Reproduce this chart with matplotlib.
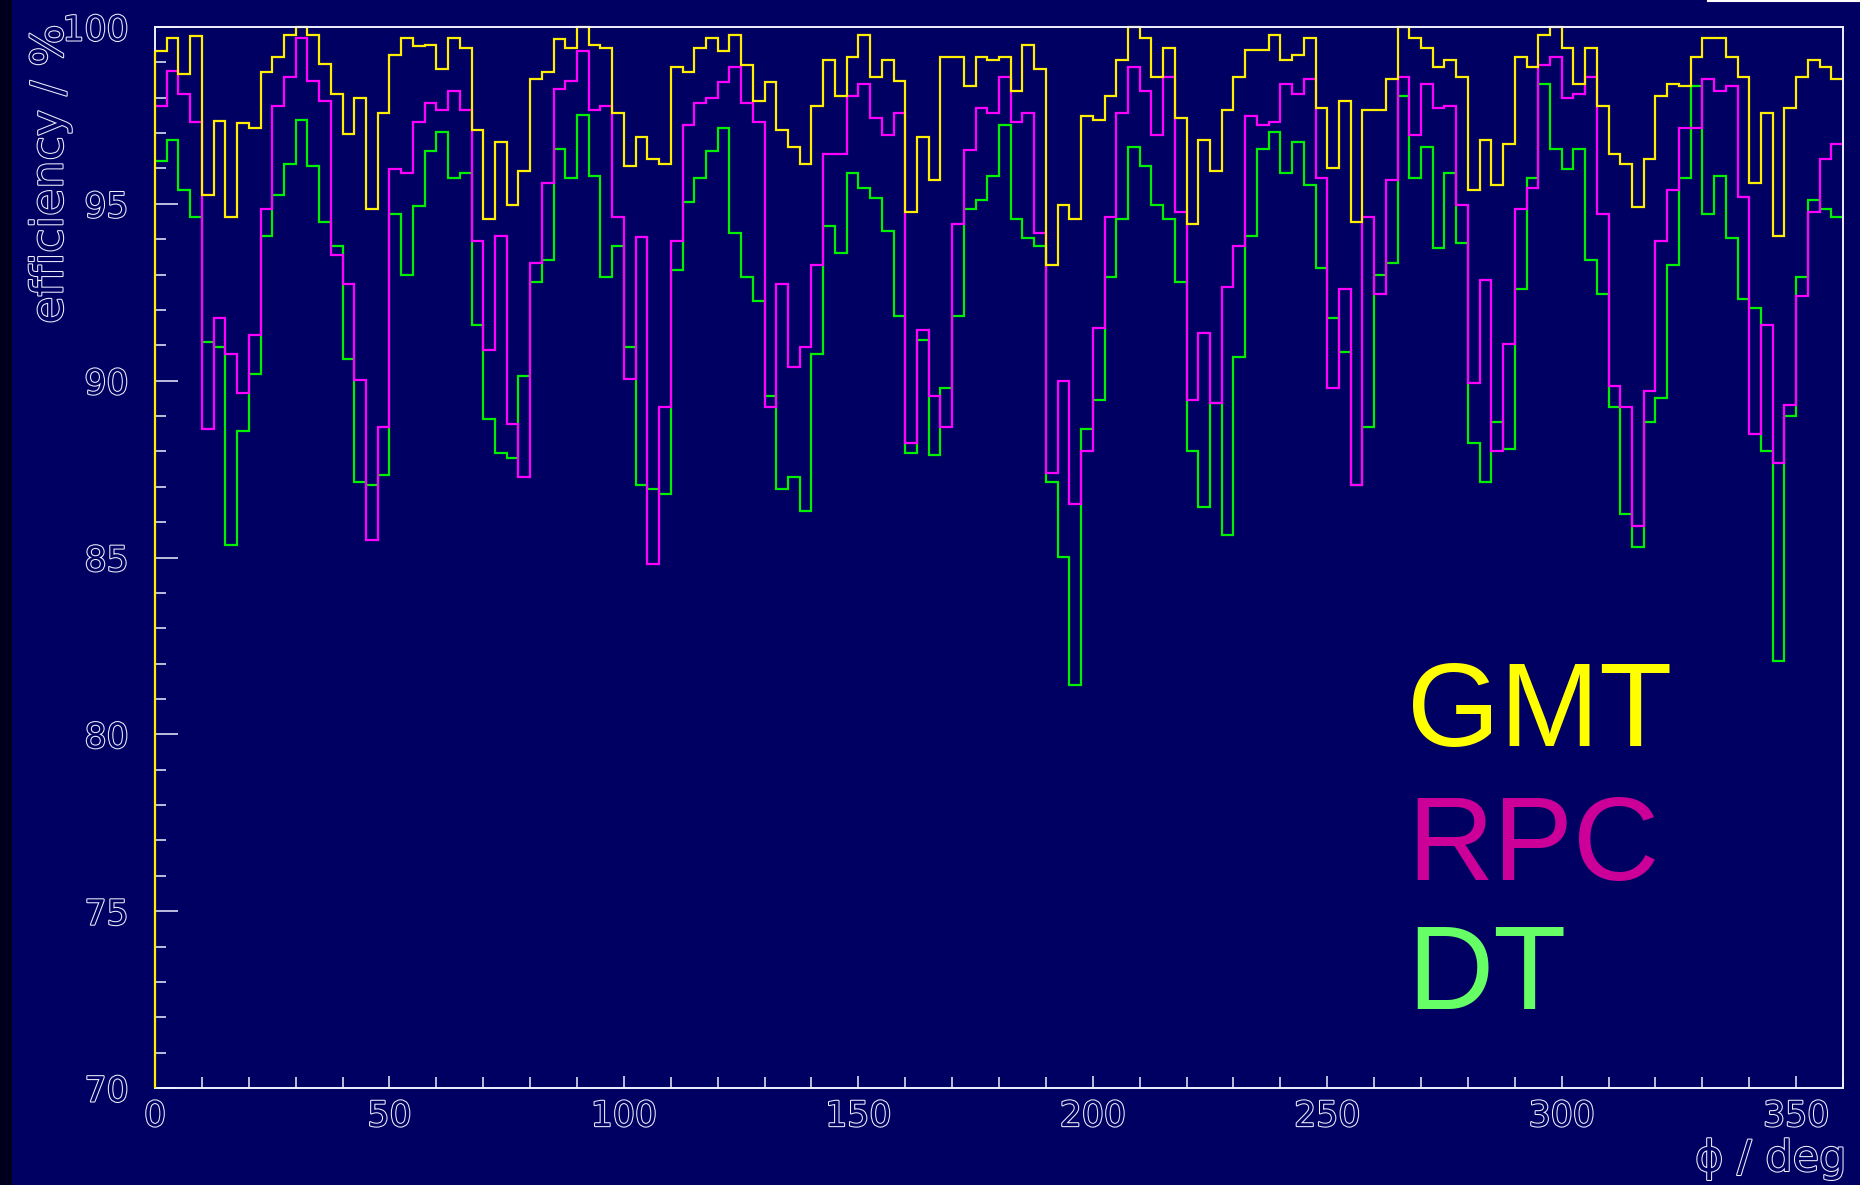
import matplotlib
matplotlib.use("Agg")
import matplotlib.pyplot as plt
import matplotlib.patheffects as pe
from matplotlib.lines import Line2D
from matplotlib.patches import Rectangle
import numpy as np

# ---------------- data (efficiency in %, 2.5 deg bins in phi) ----------------
phi_min = 0.0
phi_max = 360.0
n_bins = 144

gmt = [99.33, 99.68, 98.66, 99.74, 95.25, 97.35, 94.63, 97.29, 97.15, 98.74,
       99.15, 99.77, 100.0, 99.77, 98.94, 98.11, 96.98, 97.98, 94.86, 97.57,
       99.21, 99.68, 99.45, 99.48, 98.80, 99.68, 99.42, 97.09, 94.56, 96.74,
       94.97, 95.94, 98.52, 98.74, 99.67, 99.42, 100.0, 99.48, 99.42, 97.57,
       96.07, 96.88, 96.28, 96.13, 98.86, 98.74, 99.42, 99.68, 99.33, 99.76,
       98.92, 97.91, 98.45, 97.09, 96.62, 96.13, 97.76, 99.07, 98.05, 99.15,
       99.76, 98.60, 99.07, 98.46, 94.76, 96.88, 95.66, 99.15, 99.15, 98.33,
       99.15, 99.07, 99.15, 98.19, 99.48, 98.80, 93.27, 94.97, 94.57, 97.49,
       97.37, 98.05, 99.08, 100.0, 99.68, 98.59, 99.42, 97.44, 94.43, 96.81,
       95.93, 97.64, 98.59, 99.35, 99.35, 99.76, 99.08, 99.21, 99.68, 97.71,
       96.01, 97.91, 94.50, 97.64, 97.64, 98.52, 100.0, 99.68, 99.42, 98.86,
       99.07, 98.60, 95.39, 96.81, 95.52, 96.68, 99.15, 98.86, 99.76, 100.0,
       99.42, 98.39, 99.42, 97.78, 96.41, 96.13, 94.91, 96.28, 98.05, 98.39,
       98.33, 99.15, 99.68, 99.68, 99.15, 98.59, 95.60, 97.57, 94.09, 97.71,
       98.59, 99.07, 98.86, 98.52]

rpc = [97.78, 98.75, 98.11, 97.32, 88.64, 91.77, 90.75, 89.66, 91.29, 94.85,
       97.78, 98.59, 99.68, 98.46, 97.91, 93.56, 92.73, 90.01, 85.50, 88.70,
       95.99, 95.87, 97.30, 97.84, 97.65, 98.18, 97.65, 93.95, 90.88, 94.09,
       88.77, 87.27, 93.33, 95.60, 98.25, 98.46, 99.33, 97.65, 97.76, 94.64,
       90.06, 94.07, 84.81, 89.25, 93.95, 97.22, 97.84, 97.98, 98.45, 98.86,
       97.84, 97.30, 89.25, 92.72, 90.40, 90.95, 93.27, 96.41, 96.41, 98.05,
       98.39, 97.43, 96.95, 97.57, 88.23, 91.43, 89.58, 88.70, 94.43, 96.53,
       97.70, 97.57, 98.59, 97.30, 97.57, 94.17, 87.40, 90.00, 86.52, 88.01,
       91.50, 94.64, 97.57, 98.86, 98.19, 96.95, 98.59, 94.78, 89.45, 91.36,
       89.38, 92.66, 93.82, 97.49, 97.23, 97.30, 98.39, 98.11, 98.52, 95.72,
       89.79, 92.58, 87.05, 94.63, 92.45, 95.66, 98.59, 96.95, 98.39, 97.71,
       97.78, 94.97, 89.93, 92.86, 88.01, 91.03, 94.85, 95.46, 98.93, 99.15,
       97.98, 98.11, 98.59, 94.70, 89.86, 89.25, 85.89, 89.72, 93.95, 95.39,
       97.15, 97.15, 98.52, 98.19, 98.33, 95.19, 88.50, 91.56, 87.66, 89.31,
       92.38, 94.78, 96.27, 96.68]

dt = [96.22, 96.81, 95.39, 94.63, 91.09, 90.95, 85.35, 88.58, 90.19, 94.09,
      95.26, 96.13, 97.37, 96.07, 94.50, 93.82, 90.60, 87.13, 87.05, 87.34,
      94.70, 93.00, 94.93, 96.48, 97.03, 95.73, 95.87, 91.58, 88.91, 87.95,
      87.81, 90.13, 92.80, 93.42, 96.55, 95.73, 97.50, 95.78, 92.93, 93.82,
      90.95, 87.05, 86.93, 86.79, 93.13, 95.04, 95.73, 96.48, 97.15, 94.17,
      92.93, 92.25, 89.58, 86.93, 87.27, 86.31, 90.74, 94.36, 93.60, 95.87,
      95.45, 95.17, 94.23, 91.83, 87.95, 91.15, 87.89, 89.79, 91.83, 94.85,
      95.12, 95.80, 97.23, 94.56, 94.02, 93.82, 87.13, 85.01, 81.39, 88.62,
      89.45, 92.93, 94.56, 96.62, 96.07, 94.97, 94.56, 92.80, 88.01, 86.44,
      89.38, 85.63, 90.68, 94.09, 96.55, 97.03, 95.87, 96.75, 95.52, 93.19,
      91.77, 90.80, 87.05, 88.70, 93.00, 93.33, 98.05, 95.73, 96.62, 93.76,
      95.87, 93.89, 88.23, 87.13, 88.82, 88.06, 92.58, 95.73, 98.39, 96.55,
      95.99, 96.55, 93.41, 92.45, 89.25, 86.24, 85.29, 88.84, 89.52, 93.27,
      95.73, 98.33, 94.70, 95.78, 94.02, 92.31, 92.05, 88.01, 82.06, 89.00,
      92.93, 95.11, 94.85, 94.64]

x_ticks = [0, 50, 100, 150, 200, 250, 300, 350]
y_ticks = [70, 75, 80, 85, 90, 95, 100]
y_min, y_max = 70, 100

series_names = ["GMT", "RPC", "DT"]

# ---------------- style ----------------
BG = "#000062"
FRAME = "#f0f0ff"
C_GMT_LINE = "#ffee00"
C_RPC_LINE = "#ff00ff"
C_DT_LINE = "#00f000"
C_GMT_TXT = "#ffff00"
C_RPC_TXT = "#cc0099"
C_DT_TXT = "#66ff66"

W, H = 1860, 1185
fig = plt.figure(figsize=(W / 100, H / 100), dpi=100, facecolor=BG)

# dark strip at the very left edge and stray line top-right (slide artefacts)
fig.add_artist(Rectangle((0, 0), 12 / W, 1, transform=fig.transFigure,
                         facecolor="#00001c", edgecolor="none", zorder=0))
fig.add_artist(Line2D([1708 / W, 1.0], [1 - 1 / H, 1 - 1 / H],
                      transform=fig.transFigure, color="white", lw=1.5))

left, right, top, bottom = 155, 1843, 27, 1088
ax = fig.add_axes([left / W, 1 - bottom / H, (right - left) / W, (bottom - top) / H])
ax.set_facecolor(BG)

edges = np.linspace(phi_min, phi_max, n_bins + 1)
lw = 1.6
ax.stairs(dt, edges, baseline=None, color=C_DT_LINE, lw=lw, zorder=2.0, clip_on=False)
ax.stairs(rpc, edges, baseline=None, color=C_RPC_LINE, lw=lw, zorder=2.1, clip_on=False)
ax.stairs(gmt, edges, baseline=None, color=C_GMT_LINE, lw=lw, zorder=2.2, clip_on=False)
# ROOT draws the first bin edge down to the axis minimum
ax.vlines(edges[0], y_min, gmt[0], color=C_GMT_LINE, lw=lw, zorder=3, clip_on=False)

ax.set_xlim(phi_min, phi_max)
ax.set_ylim(y_min, y_max)

for s in ax.spines.values():
    s.set_color(FRAME)
    s.set_linewidth(1.4)
    s.set_zorder(2.5)

hollow = [pe.withStroke(linewidth=1.5, foreground=FRAME)]
ax.set_xticks(x_ticks, labels=[str(t) for t in x_ticks], fontsize=25,
              family="DejaVu Sans", color=BG, path_effects=hollow)
ax.set_yticks(y_ticks, labels=[str(t) for t in y_ticks], fontsize=25,
              family="DejaVu Sans", color=BG, path_effects=hollow)
ax.set_xticks(np.arange(phi_min, phi_max + 0.1, 10), minor=True)
ax.set_yticks(np.arange(y_min, y_max + 0.1, 1), minor=True)

ax.tick_params(axis="both", which="both", direction="in", color=FRAME, width=1.1,
               top=False, right=False)
ax.tick_params(axis="y", which="major", length=16.5, pad=19)
ax.tick_params(axis="y", which="minor", length=8)
ax.tick_params(axis="x", which="major", length=8.5, pad=8)
ax.tick_params(axis="x", which="minor", length=8)

# axis titles (ROOT style, hollow)
fig.text(50 / W, 1 - 24 / H, "efficiency / %", rotation=90, ha="center", va="top",
         fontsize=32, family="DejaVu Sans", color=BG, path_effects=hollow)
fig.text(1846 / W, 1 - 1171 / H, "\u03d5 / deg", ha="right", va="baseline",
         fontsize=31, family="DejaVu Sans", color=BG, path_effects=hollow)

# series labels
fig.text(1407 / W, 1 - 746 / H, series_names[0], ha="left", va="baseline",
         fontsize=86, family="Liberation Sans", color=C_GMT_TXT)
fig.text(1407 / W, 1 - 880 / H, series_names[1], ha="left", va="baseline",
         fontsize=86, family="Liberation Sans", color=C_RPC_TXT)
fig.text(1407 / W, 1 - 1009 / H, series_names[2], ha="left", va="baseline",
         fontsize=86, family="Liberation Sans", color=C_DT_TXT)

fig.savefig("out.png", dpi=100, facecolor=BG)
